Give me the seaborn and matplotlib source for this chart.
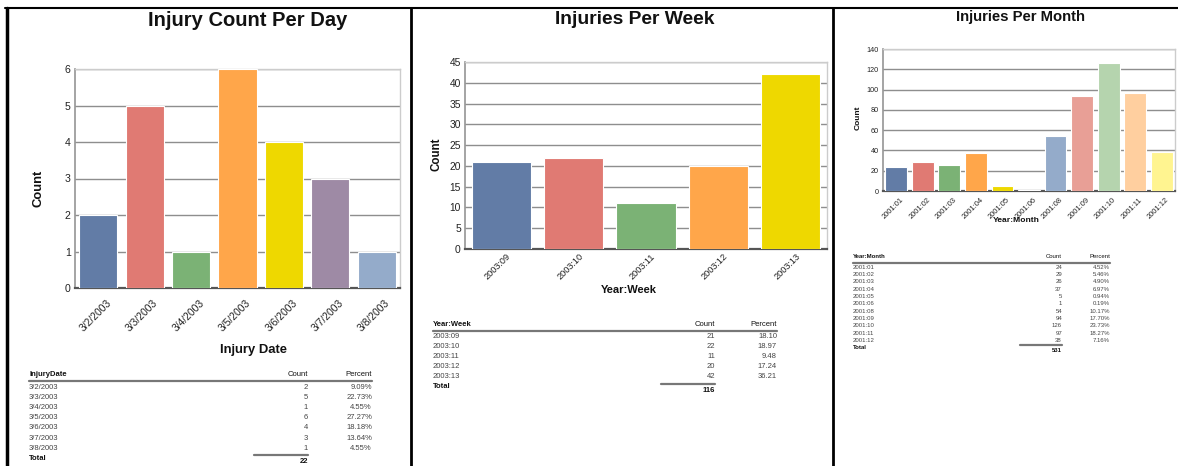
import matplotlib
matplotlib.use("Agg")
import matplotlib.pyplot as plt
import matplotlib.transforms as mtrans
import pandas as pd
import seaborn as sns
from matplotlib.lines import Line2D

# data
days = ['3/2/2003', '3/3/2003', '3/4/2003', '3/5/2003', '3/6/2003', '3/7/2003', '3/8/2003']
day_counts = [2, 5, 1, 6, 4, 3, 1]
day_pct = ['9.09%', '22.73%', '4.55%', '27.27%', '18.18%', '13.64%', '4.55%']

weeks = ['2003:09', '2003:10', '2003:11', '2003:12', '2003:13']
week_counts = [21, 22, 11, 20, 42]
week_pct = ['18.10', '18.97', '9.48', '17.24', '36.21']

months = ['2001:01', '2001:02', '2001:03', '2001:04', '2001:05', '2001:06',
          '2001:08', '2001:09', '2001:10', '2001:11', '2001:12']
month_counts = [24, 29, 26, 37, 5, 1, 54, 94, 126, 97, 38]
month_pct = ['4.52%', '5.46%', '4.90%', '6.97%', '0.94%', '0.19%',
             '10.17%', '17.70%', '23.73%', '18.27%', '7.16%']

colors = ['#627CA6', '#E07A73', '#7BB275', '#FFA64A', '#EED800', '#9E8AA5',
          '#94ABCA', '#E89F96', '#B5D4AE', '#FFCF9F', '#FFF490']

W, H = 1178, 466
sns.set_theme(style="white")
plt.rcParams['font.family'] = ['Liberation Sans', 'DejaVu Sans']

fig = plt.figure(figsize=(W / 100, H / 100), dpi=100)


def rect(l, t, r, b):
    return [l / W, 1 - b / H, (r - l) / W, (b - t) / H]


def txt(x, y, s, size, bold=False, ha='left', rot=0, color='#111111'):
    fig.text(x / W, 1 - y / H, s, fontsize=size, ha=ha, va='center', rotation=rot,
             fontweight='bold' if bold else 'normal', color=color)


def hline(x0, x1, y, lw=1.0, color='#777777'):
    fig.add_artist(Line2D([x0 / W, x1 / W], [1 - y / H, 1 - y / H], lw=lw, color=color))


def bar_panel(box, cats, vals, yticks, tick_fs, lab_fs, pad, shift):
    ax = fig.add_axes(rect(*box))
    df = pd.DataFrame({'cat': cats, 'val': vals})
    sns.barplot(data=df, x='cat', y='val', hue='cat', palette=colors[:len(cats)],
                saturation=1, legend=False, width=0.82, edgecolor='white',
                linewidth=0.8, ax=ax, zorder=3)
    ax.set_ylim(0, yticks[-1])
    ax.set_yticks(yticks)
    ax.set_xlim(-0.5, len(cats) - 0.5)
    ax.yaxis.grid(True, color='#8e8e8e', lw=1.0, zorder=0)
    ax.set_axisbelow(True)
    ax.set_xlabel('')
    ax.set_ylabel('')
    for s in ['top', 'right']:
        ax.spines[s].set_color('#cccccc')
        ax.spines[s].set_linewidth(1.0)
    ax.spines['left'].set_color('#999999')
    ax.spines['bottom'].set_color('#555555')
    ax.spines['bottom'].set_linewidth(1.6)
    ax.tick_params(axis='y', length=0, pad=3, labelsize=lab_fs, labelcolor='#222222')
    ax.tick_params(axis='x', length=0, pad=pad, labelsize=tick_fs, labelcolor='#222222')
    off = mtrans.ScaledTranslation(shift / 100, 0, fig.dpi_scale_trans)
    for lab in ax.get_xticklabels():
        lab.set_rotation(45)
        lab.set_ha('right')
        lab.set_rotation_mode('anchor')
        lab.set_transform(lab.get_transform() + off)
    return ax


# panel 1 - per day
bar_panel((75, 69, 400, 288), days, day_counts, list(range(0, 7)), 7.4, 7.6, 7, 8)
txt(248, 20, 'Injury Count Per Day', 14.5, bold=True, ha='center')
txt(253, 350, 'Injury Date', 9.4, bold=True, ha='center')
txt(38, 188, 'Count', 9.4, bold=True, ha='center', rot=90)

# panel 2 - per week
bar_panel((465, 62, 827, 249), weeks, week_counts, list(range(0, 46, 5)), 6.6, 7.4, 2, 5)
txt(635, 20, 'Injuries Per Week', 13.9, bold=True, ha='center')
txt(629, 290, 'Year:Week', 8, bold=True, ha='center')
txt(437, 154, 'Count', 8.3, bold=True, ha='center', rot=90)

# panel 3 - per month
bar_panel((883, 49, 1175, 191), months, month_counts, list(range(0, 141, 20)), 5.4, 5.2, 4, 4)
txt(1020, 17, 'Injuries Per Month', 10.7, bold=True, ha='center')
txt(1016, 221, 'Year:Month', 6.1, bold=True, ha='center')
txt(858, 118, 'Count', 6, bold=True, ha='center', rot=90)


def table(x0, xc, xp, y0, step, head, cats, counts, pct, fs):
    txt(x0, y0, head, fs, bold=True)
    txt(xc, y0, 'Count', fs, ha='right')
    txt(xp, y0, 'Percent', fs, ha='right')
    hline(x0, xp, y0 + 6, lw=1.6)
    y = y0 + 6 + step * 0.6
    for c, n, p in zip(cats, counts, pct):
        txt(x0, y, c, fs, color='#444444')
        txt(xc, y, str(n), fs, ha='right', color='#444444')
        txt(xp, y, p, fs, ha='right', color='#444444')
        y += step
    hline(xc - 54 * fs / 5.5, xc, y - step * 0.35, lw=1.6)
    txt(x0, y, 'Total', fs, bold=True)
    txt(xc, y + 3, str(sum(counts)), fs, bold=True, ha='right')


table(29, 308, 372, 375, 10.2, 'InjuryDate', days, day_counts, day_pct, 5.5)
table(433, 715, 777, 325, 10.0, 'Year:Week', weeks, week_counts, week_pct, 5.5)
table(853, 1062, 1110, 257, 7.3, 'Year:Month', months, month_counts, month_pct, 4.3)

# page frame lines
fig.add_artist(Line2D([5 / W, 1], [1 - 8 / H, 1 - 8 / H], lw=1.5, color='black'))
for x, lw in [(6.5, 2.5), (410.5, 2.0), (832.5, 2.0)]:
    fig.add_artist(Line2D([x / W, x / W], [0, 1 - 8 / H], lw=lw, color='black'))

fig.savefig('out.png', dpi=100)
